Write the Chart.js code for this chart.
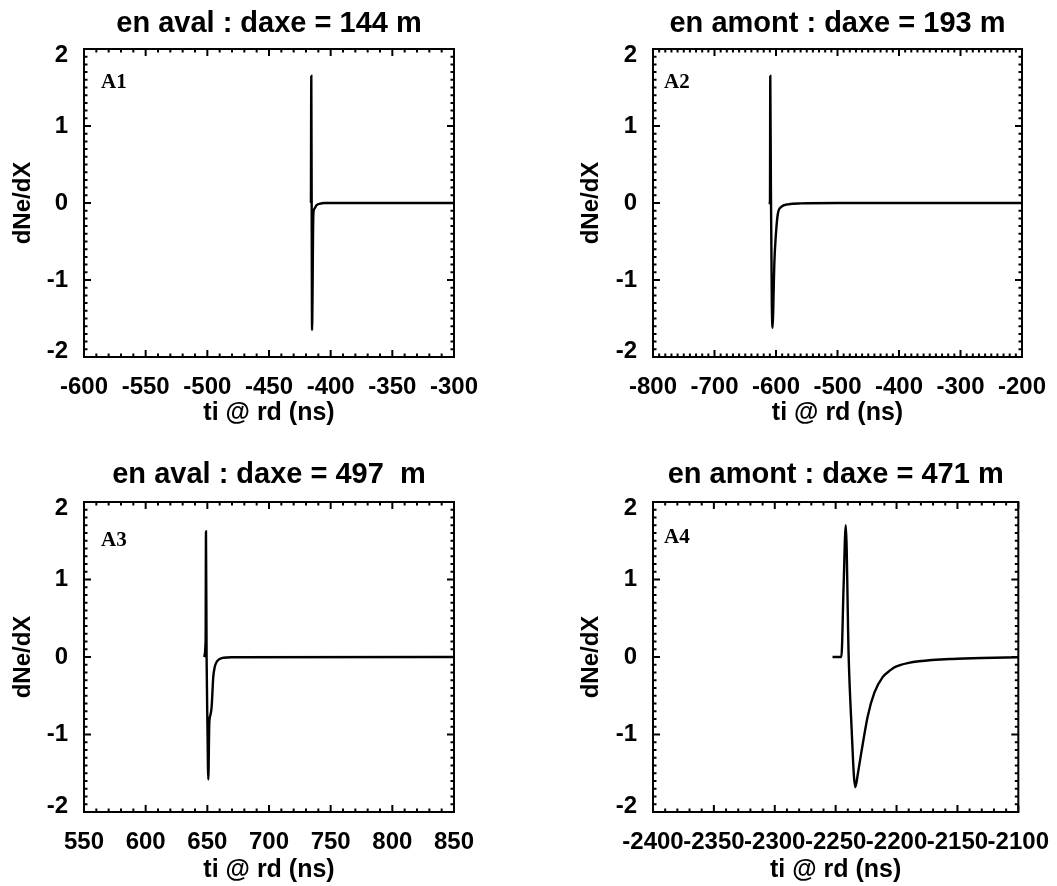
<!DOCTYPE html>
<html>
<head>
<meta charset="utf-8">
<script src="https://cdn.jsdelivr.net/npm/chart.js@4.4.1/dist/chart.umd.min.js"></script>
<style>
  html, body { margin: 0; padding: 0; background: #fff; }
  #page { position: relative; width: 1057px; height: 886px; background: #fff; }
  canvas { position: absolute; }
</style>
</head>
<body>
<div id="page">
  <canvas id="c1" width="528" height="440" style="left:0;top:0"></canvas>
  <canvas id="c2" width="529" height="440" style="left:528px;top:0"></canvas>
  <canvas id="c3" width="528" height="446" style="left:0;top:440px"></canvas>
  <canvas id="c4" width="529" height="446" style="left:528px;top:440px"></canvas>
</div>
<script>
// --- data (ti @ rd in ns, dNe/dX) ---
var t1 = [-416, -415.7, -415.4, -415.1, -414.7, -414.3, -414.0, -413.0, -411.5, -409.0, -405.0, -300.0];
var v1 = [0, 1.65, 0, -1.65, -1.2, -0.4, -0.14, -0.07, -0.03, -0.01, 0, 0];

var t2 = [-612, -609.8, -609.3, -608.3, -606.8, -605.3, -604.0, -602.7, -600.0, -597.0, -591.5, -580.0, -560.0, -500.0, -200.0];
var v2 = [0, 0, 1.65, 0.2, -1.3, -1.62, -1.2, -0.78, -0.39, -0.14, -0.05, -0.017, -0.005, 0, 0];

var t3 = [647.3, 648.6, 648.9, 649.4, 650.1, 650.8, 651.6, 652.5, 653.5, 654.8, 656.0, 657.5, 660.0, 663.0, 670.0, 850.0];
var v3 = [0, 0.2, 1.62, 0, -0.9, -1.58, -0.85, -0.75, -0.64, -0.26, -0.13, -0.064, -0.025, -0.01, -0.003, 0];

var t4 = [-2252.6, -2245.3, -2243.5, -2241.7, -2239.3, -2237.2, -2233.9, -2231.7, -2229.0, -2223.6, -2218.2, -2211.4, -2205.0, -2200.6, -2190.0, -2181.6, -2154.5, -2130.0, -2100.0];
var v4 = [0, 0, 0.9, 1.7, 0, -0.82, -1.68, -1.5, -1.24, -0.76, -0.46, -0.26, -0.17, -0.125, -0.075, -0.055, -0.025, -0.012, -0.005];

// tick labels
var xTicks1 = [-600, -550, -500, -450, -400, -350, -300];
var xTicks2 = [-800, -700, -600, -500, -400, -300, -200];
var xTicks3 = [550, 600, 650, 700, 750, 800, 850];
var xTicks4 = [-2400, -2350, -2300, -2250, -2200, -2150, -2100];
var yTicks = [-2, -1, 0, 1, 2];

var titles = ['en aval : daxe = 144 m', 'en amont : daxe = 193 m', 'en aval : daxe = 497  m', 'en amont : daxe = 471 m'];
var tags = ['A1', 'A2', 'A3', 'A4'];

// narrow font for the axes if it is there
function fontExists(name) {
    var c = document.createElement('canvas').getContext('2d');
    c.font = 'bold 40px monospace';
    var w0 = c.measureText('-2400 dNe/dX').width;
    c.font = 'bold 40px "' + name + '", monospace';
    return c.measureText('-2400 dNe/dX').width !== w0;
}
var NARROW = fontExists('Liberation Sans Narrow');
var axisFamily = NARROW ? '"Liberation Sans Narrow", "Liberation Sans", sans-serif' : '"Liberation Sans", Arial, sans-serif';
var tickSize = NARROW ? 28 : 24;
var titleSize = NARROW ? 29 : 25;

// frame with inward major/minor ticks on all four sides, plus the panel tag
var frameTicks = {
    id: 'frameTicks',
    afterDraw: function (chart, args, opts) {
        var c = chart.ctx, a = chart.chartArea;
        var sx = chart.scales.x, sy = chart.scales.y;
        c.save();
        c.strokeStyle = '#000';
        c.lineWidth = 2;
        c.beginPath();
        var i, n, v, p, len;
        n = Math.round((sx.max - sx.min) / opts.xMinor);
        for (i = 0; i <= n; i++) {
            v = sx.min + i * opts.xMinor;
            p = sx.getPixelForValue(v);
            len = (i % opts.xPer === 0) ? 7 : 3.5;
            c.moveTo(p, a.bottom); c.lineTo(p, a.bottom - len);
            c.moveTo(p, a.top); c.lineTo(p, a.top + len);
        }
        n = Math.round((sy.max - sy.min) / 0.1);
        for (i = 0; i <= n; i++) {
            v = sy.min + i * 0.1;
            p = sy.getPixelForValue(v);
            len = (i % 10 === 0) ? 7 : 3.5;
            c.moveTo(a.left, p); c.lineTo(a.left + len, p);
            c.moveTo(a.right, p); c.lineTo(a.right - len, p);
        }
        c.stroke();
        c.strokeRect(a.left, a.top, a.right - a.left, a.bottom - a.top);
        c.fillStyle = '#000';
        c.font = 'bold 21px "Liberation Serif", "Times New Roman", serif';
        c.textBaseline = 'middle';
        c.textAlign = 'left';
        c.fillText(opts.tag, a.left + opts.tagX, a.top + opts.tagY);
        c.restore();
    }
};

function makePanel(id, p) {
    var ctx = document.getElementById(id).getContext('2d');
    var pts = p.t.map(function (x, i) { return { x: x, y: p.v[i] }; });
    var xt = p.xTicks;
    return new Chart(ctx, {
        type: 'scatter',
        data: {
            datasets: [{
                data: pts,
                showLine: true,
                borderColor: '#000',
                borderWidth: 2.4,
                pointRadius: 0,
                cubicInterpolationMode: 'monotone'
            }]
        },
        options: {
            responsive: false,
            animation: false,
            layout: { padding: { left: 0, right: p.padRight, top: 0, bottom: 0 } },
            plugins: {
                legend: { display: false },
                tooltip: { enabled: false },
                title: {
                    display: true,
                    fullSize: false,
                    text: p.title,
                    color: '#000',
                    font: { family: '"Liberation Sans", Arial, sans-serif', size: 29, weight: 'bold', lineHeight: 1 },
                    padding: { top: p.titleTop, bottom: p.titleBottom }
                },
                frameTicks: { xMinor: p.xMinor, xPer: p.xPer, tag: p.tag, tagX: p.tagX, tagY: p.tagY }
            },
            scales: {
                x: {
                    type: 'linear',
                    min: xt[0],
                    max: xt[xt.length - 1],
                    grid: { display: false },
                    border: { display: false },
                    ticks: {
                        stepSize: xt[1] - xt[0],
                        autoSkip: false,
                        maxRotation: 0,
                        padding: 8,
                        color: '#000',
                        font: { family: axisFamily, size: tickSize, weight: 'bold' },
                        callback: function (v) { return String(v); }
                    },
                    title: {
                        display: true,
                        text: 'ti @ rd (ns)',
                        color: '#000',
                        font: { family: axisFamily, size: titleSize, weight: 'bold' },
                        padding: { top: 0, bottom: p.xTitleBottom }
                    },
                    afterFit: function (s) { s.height = p.xHeight; }
                },
                y: {
                    type: 'linear',
                    min: yTicks[0],
                    max: yTicks[yTicks.length - 1],
                    grid: { display: false },
                    border: { display: false },
                    ticks: {
                        stepSize: yTicks[1] - yTicks[0],
                        padding: 8,
                        color: '#000',
                        font: function (c) {
                            var edge = c.tick && Math.abs(c.tick.value) === 2;
                            return { family: axisFamily, size: tickSize, weight: 'bold', lineHeight: edge ? 0.5 : 1.2 };
                        },
                        // the extreme labels sit a little inside the frame
                        callback: function (v) {
                            if (v === 2) return ['', '2'];
                            if (v === -2) return ['-2', ''];
                            return String(v);
                        }
                    },
                    title: {
                        display: true,
                        text: 'dNe/dX',
                        color: '#000',
                        font: { family: axisFamily, size: tickSize, weight: 'bold' },
                        padding: { top: p.yTitleTop, bottom: 0 }
                    },
                    afterFit: function (s) { s.width = p.left; }
                }
            }
        },
        plugins: [frameTicks]
    });
}

makePanel('c1', { t: t1, v: v1, xTicks: xTicks1, xMinor: 10, xPer: 5, title: titles[0], tag: tags[0],
    left: 84, padRight: 74, titleTop: 9, titleBottom: 11, xHeight: 83, xTitleBottom: 12, yTitleTop: 9, tagX: 17, tagY: 34 });
makePanel('c2', { t: t2, v: v2, xTicks: xTicks2, xMinor: 10, xPer: 10, title: titles[1], tag: tags[1],
    left: 125, padRight: 35, titleTop: 9, titleBottom: 11, xHeight: 83, xTitleBottom: 12, yTitleTop: 49, tagX: 11, tagY: 34 });
makePanel('c3', { t: t3, v: v3, xTicks: xTicks3, xMinor: 10, xPer: 5, title: titles[2], tag: tags[2],
    left: 84, padRight: 74, titleTop: 20, titleBottom: 13, xHeight: 74, xTitleBottom: 1, yTitleTop: 9, tagX: 17, tagY: 39 });
makePanel('c4', { t: t4, v: v4, xTicks: xTicks4, xMinor: 10, xPer: 5, title: titles[3], tag: tags[3],
    left: 125, padRight: 35, titleTop: 20, titleBottom: 13, xHeight: 74, xTitleBottom: 1, yTitleTop: 49, tagX: 11, tagY: 36 });
</script>
</body>
</html>
